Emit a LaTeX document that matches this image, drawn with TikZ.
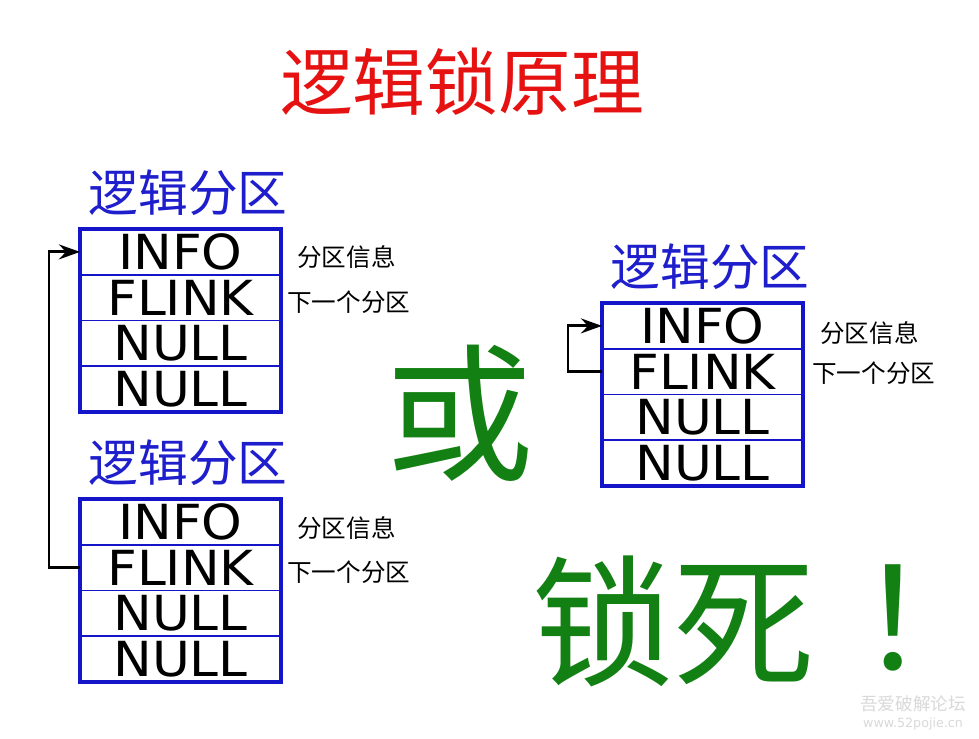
\documentclass[tikz,border=0pt]{standalone}
\usepackage{fontspec}
\setmainfont{DejaVu Sans}
\newfontfamily\cjk{Noto Sans CJK SC}
\newfontfamily\cjktc{Noto Sans CJK TC}
\newfontfamily\fieldfont{DejaVu Sans}[FakeStretch=1.07]
\usetikzlibrary{arrows.meta,positioning}

\definecolor{titlered}{RGB}{230,18,18}
\definecolor{partblue}{RGB}{30,30,205}
\definecolor{boxblue}{RGB}{20,20,200}
\definecolor{lockgreen}{RGB}{18,128,18}

\tikzset{
  field/.style={draw=boxblue, line width=1.1pt, minimum width=4.02cm,
    minimum height=0.915cm, inner sep=0pt, outer sep=0pt,
    font=\fieldfont\fontsize{27.5}{27.5}\selectfont},
  frame/.style={draw=boxblue, line width=1.8pt},
  parttitle/.style={text=partblue, inner sep=0pt,
    font=\cjk\fontsize{28.3}{28.3}\selectfont},
  note/.style={inner sep=0pt, font=\cjk\fontsize{14}{14}\selectfont},
  bigword/.style={text=lockgreen, inner sep=0pt,
    font=\cjk\fontsize{80.5}{80.5}\selectfont},
  link/.style={draw=black, line width=1.6pt,
    -{Stealth[length=12pt,width=8.5pt,inset=4pt]}},
}

\begin{document}
\begin{tikzpicture}[x=0.02cm, y=-0.02cm]
\useasboundingbox[fill=white] (0,0) rectangle (979,739);
%
\node[text=titlered, font=\cjk\fontsize{41.4}{41.4}\selectfont] (title) at (462,82) {逻辑锁原理};
%
% first partition
\node[parttitle] (t1) at (188,193) {逻辑分区};
\node[field] (p1info) at (180.5,251.9) {INFO};
\node[field, below=0pt of p1info] (p1flink) {FLINK};
\node[field, below=0pt of p1flink] (p1nulla) {NULL};
\node[field, below=0pt of p1nulla] (p1nullb) {NULL};
\draw[frame] (p1info.north west) rectangle (p1nullb.south east);
\node[note, right=0.32cm of p1info, yshift=-0.1cm] (n1info) {分区信息};
\node[note, right=0.12cm of p1flink, yshift=-0.09cm] (n1flink) {下一个分区};
%
% second partition
\node[parttitle] (t2) at (188,463) {逻辑分区};
\node[field] (p2info) at (180.5,521.9) {INFO};
\node[field, below=0pt of p2info] (p2flink) {FLINK};
\node[field, below=0pt of p2flink] (p2nulla) {NULL};
\node[field, below=0pt of p2nulla] (p2nullb) {NULL};
\draw[frame] (p2info.north west) rectangle (p2nullb.south east);
\node[note, right=0.32cm of p2info, yshift=-0.12cm] (n2info) {分区信息};
\node[note, right=0.12cm of p2flink, yshift=-0.09cm] (n2flink) {下一个分区};
%
% third partition, pointing at itself
\node[parttitle] (t3) at (710,267) {逻辑分区};
\node[field] (p3info) at (702.5,325.9) {INFO};
\node[field, below=0pt of p3info] (p3flink) {FLINK};
\node[field, below=0pt of p3flink] (p3nulla) {NULL};
\node[field, below=0pt of p3nulla] (p3nullb) {NULL};
\draw[frame] (p3info.north west) rectangle (p3nullb.south east);
\node[note, right=0.34cm of p3info, yshift=-0.14cm] (n3info) {分区信息};
\node[note, right=0.18cm of p3flink, yshift=-0.03cm] (n3flink) {下一个分区};
%
\draw[link] (p2flink.west) -- ++(-31,0) |- (p1info.west);
\draw[link] (p3flink.west) -- ++(-34,0) |- (p3info.west);
%
\node[bigword, font=\cjk\fontsize{84.5}{84.5}\selectfont] (either) at (460,413) {或};
\node[bigword] (dead) at (673.5,621) {锁死};
\node[bigword, font=\cjktc\fontsize{80.5}{80.5}\selectfont] (bang) at (893,618) {！};
%
\node[text=gray!30, inner sep=0pt, font=\cjk\fontsize{10}{10}\selectfont] (wm) at (913,704) {吾爱破解论坛};
\node[text=gray!30, inner sep=0pt, below=3pt of wm, font=\fontsize{7.2}{7.2}\selectfont] (site) {www.52pojie.cn};
\end{tikzpicture}
\end{document}
